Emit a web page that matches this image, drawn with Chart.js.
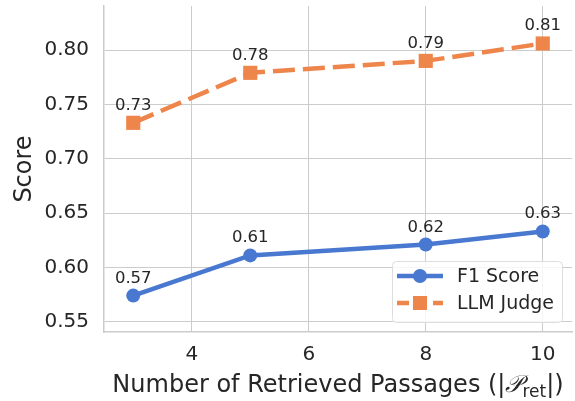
<!DOCTYPE html>
<html>
<head>
<meta charset="utf-8">
<script src="https://cdn.jsdelivr.net/npm/chart.js@4.4.0/dist/chart.umd.min.js"></script>
<style>
  html, body { margin: 0; padding: 0; background: #fff; }
  #wrap { width: 575px; height: 401px; position: relative; }
</style>
</head>
<body>
<div id="wrap"><canvas id="passChart"></canvas></div>
<script>
const passages = [3, 5, 8, 10];
const f1_score = [0.574, 0.611, 0.621, 0.633];
const llm_judge = [0.733, 0.779, 0.790, 0.806];
const series_names = ['F1 Score', 'LLM Judge'];
const x_ticks = [4, 6, 8, 10];
const y_ticks = [0.55, 0.60, 0.65, 0.70, 0.75, 0.80];

const FONT = 'DejaVu Sans';
const blue = '#4878d0';
const orange = '#ee854a';
const grey = '#cccccc';
const txt = '#262626';

// value labels above every point
const valueLabels = {
  id: 'valueLabels',
  afterDatasetsDraw(chart) {
    const ctx = chart.ctx;
    ctx.save();
    ctx.font = '16.5px ' + FONT;
    ctx.fillStyle = txt;
    ctx.textAlign = 'center';
    ctx.textBaseline = 'alphabetic';
    chart.data.datasets.forEach((ds, i) => {
      chart.getDatasetMeta(i).data.forEach((pt, j) => {
        ctx.fillText(ds.data[j].y.toFixed(2), pt.x, pt.y - 13);
      });
    });
    ctx.restore();
  }
};

// legend box in lower right, inside the axes
const innerLegend = {
  id: 'innerLegend',
  afterDraw(chart) {
    const ctx = chart.ctx;
    const a = chart.chartArea;
    const w = 170, h = 61;
    const x0 = a.right - 10 - w, y0 = a.bottom - 10 - h;
    ctx.save();
    ctx.fillStyle = 'rgba(255,255,255,0.8)';
    ctx.strokeStyle = '#dddddd';
    ctx.lineWidth = 1;
    ctx.beginPath();
    ctx.roundRect(x0 + 0.5, y0 + 0.5, w, h, 4);
    ctx.fill();
    ctx.stroke();
    chart.data.datasets.forEach((ds, i) => {
      const cy = y0 + 15 + i * 27;
      ctx.strokeStyle = ds.borderColor;
      ctx.lineWidth = 4.5;
      ctx.setLineDash(ds.borderDash ? [12, 6] : []);
      ctx.beginPath();
      ctx.moveTo(x0 + 5, cy);
      ctx.lineTo(x0 + 51, cy);
      ctx.stroke();
      ctx.setLineDash([]);
      ctx.fillStyle = ds.borderColor;
      if (ds.pointStyle === 'rect') {
        ctx.fillRect(x0 + 21, cy - 7, 14, 14);
      } else {
        ctx.beginPath();
        ctx.arc(x0 + 28, cy, 7, 0, Math.PI * 2);
        ctx.fill();
      }
      ctx.fillStyle = txt;
      ctx.font = '19px ' + FONT;
      ctx.textBaseline = 'middle';
      ctx.textAlign = 'left';
      ctx.fillText(ds.label, x0 + 65, cy + 1);
    });
    ctx.restore();
  }
};

// x axis title with script P and subscript
const xTitle = {
  id: 'xTitle',
  afterDraw(chart) {
    const ctx = chart.ctx;
    const a = chart.chartArea;
    const parts = [
      { t: 'Number of Retrieved Passages (|', f: '24px ' + FONT, dy: 0 },
      { t: '\u{1D4AB}', f: 'italic 24px ' + FONT, dy: 0 },
      { t: 'ret', f: '17px ' + FONT, dy: 5 },
      { t: '|)', f: '24px ' + FONT, dy: 0 }
    ];
    ctx.save();
    let total = 0;
    parts.forEach(p => { ctx.font = p.f; p.w = ctx.measureText(p.t).width; total += p.w; });
    let x = (a.left + a.right) / 2 - total / 2;
    const y = 392;
    ctx.fillStyle = txt;
    ctx.textBaseline = 'alphabetic';
    ctx.textAlign = 'left';
    parts.forEach(p => {
      ctx.font = p.f;
      ctx.fillText(p.t, x, y + p.dy);
      x += p.w;
    });
    ctx.restore();
  }
};

const ctxPS = document.getElementById('passChart').getContext('2d');
const chart_pass = new Chart(ctxPS, {
  type: 'line',
  data: {
    datasets: [
      {
        label: series_names[0],
        data: passages.map((p, i) => ({ x: p, y: f1_score[i] })),
        borderColor: blue,
        backgroundColor: blue,
        borderWidth: 4.5,
        pointStyle: 'circle',
        pointRadius: 7,
        pointBorderWidth: 0,
        tension: 0
      },
      {
        label: series_names[1],
        data: passages.map((p, i) => ({ x: p, y: llm_judge[i] })),
        borderColor: orange,
        backgroundColor: orange,
        borderWidth: 4.5,
        borderDash: [22, 8],
        pointStyle: 'rect',
        pointRadius: 10,
        pointBorderWidth: 0,
        tension: 0
      }
    ]
  },
  options: {
    responsive: true,
    maintainAspectRatio: false,
    animation: false,
    layout: { autoPadding: false, padding: { top: 6, right: 3, left: 0, bottom: 0 } },
    plugins: {
      legend: { display: false },
      tooltip: { enabled: false }
    },
    scales: {
      x: {
        type: 'linear',
        min: 2.5,
        max: 10.5,
        afterBuildTicks: s => { s.ticks = x_ticks.map(v => ({ value: v })); },
        afterFit: s => {
          s.height = 69;
          s.paddingLeft = 0; s.paddingRight = 0;
        },
        grid: { color: grey, lineWidth: 1, drawTicks: false },
        border: { color: grey, width: 1.5 },
        ticks: { color: txt, font: { family: FONT, size: 20 }, padding: 11 },
        title: { display: false }
      },
      y: {
        min: 0.5405,
        max: 0.8405,
        afterBuildTicks: s => { s.ticks = y_ticks.map(v => ({ value: v })); },
        afterFit: s => {
          s.width = 104;
          s.paddingTop = 0; s.paddingBottom = 0;
        },
        grid: { color: grey, lineWidth: 1, drawTicks: false },
        border: { color: grey, width: 1.5 },
        ticks: {
          color: txt,
          font: { family: FONT, size: 20 },
          padding: 15,
          callback: v => v.toFixed(2)
        },
        title: {
          display: true,
          text: 'Score',
          color: txt,
          font: { family: FONT, size: 24 },
          padding: { top: 10, bottom: 0 }
        }
      }
    }
  },
  plugins: [valueLabels, innerLegend, xTitle]
});
</script>
</body>
</html>
